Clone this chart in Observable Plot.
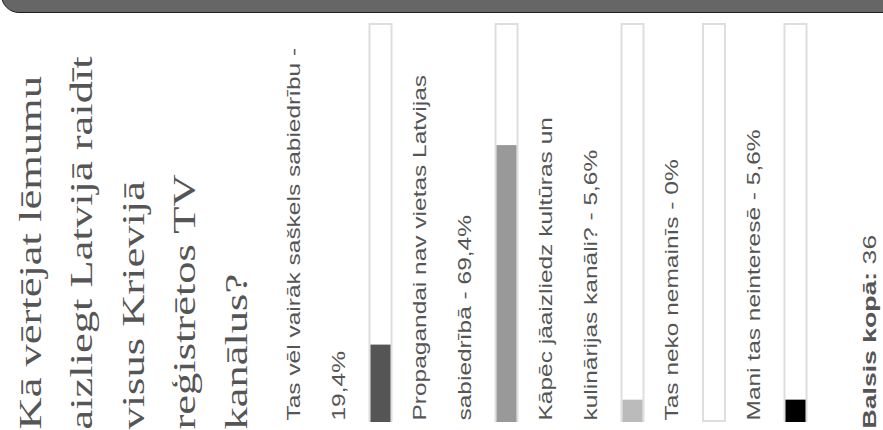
<!DOCTYPE html>
<html><head><meta charset="utf-8">
<script src="https://cdn.jsdelivr.net/npm/d3@7"></script>
<script src="https://cdn.jsdelivr.net/npm/@observablehq/plot@0.6"></script>
<style>
html,body{margin:0;padding:0;background:#fff;overflow:hidden}
#wrap{position:relative;width:883px;height:430px;overflow:hidden}
#hdr{position:absolute;left:1px;top:-12px;width:920px;height:25px;box-sizing:border-box;background:#666;border:1.5px solid #1e1e1e;border-bottom-left-radius:18px}
#chart{position:absolute;left:0;top:0}
</style></head><body><div id="wrap"><div id="chart"></div><div id="hdr"></div></div>
<script>
// ---- data ----
const question = "Kā vērtējat lēmumu aizliegt Latvijā raidīt visus Krievijā reģistrētos TV kanālus?";
const options = [
  "Tas vēl vairāk saškels sabiedrību",
  "Propagandai nav vietas Latvijas sabiedrībā",
  "Kāpēc jāaizliedz kultūras un kulinārijas kanāli?",
  "Tas neko nemainīs",
  "Mani tas neinteresē"
];
const percents = [19.4, 69.4, 5.6, 0, 5.6];
const barColors = ["#555555", "#999999", "#bbbbbb", "#dddddd", "#000000"];
const totalLabel = "Balsis kopā";
const totalVotes = 36;

// ---- layout ----
const W = 883, H = 430, STRETCH = 1.4, WRAP = 400;
const SERIF = '"Liberation Serif", "Times New Roman", serif';
const SANS = '"Liberation Sans", Arial, sans-serif';
const titleSize = 31.8, titlePitch = 51.5, labelSize = 17.5, labelPitch = 44.5, footSize = 19;
const ctx = document.createElement("canvas").getContext("2d");
function wrap(str, font) {
  ctx.font = font;
  const words = str.split(" "), lines = [];
  let cur = "";
  for (const w of words) {
    const t = cur ? cur + " " + w : w;
    if (cur && ctx.measureText(t).width * STRETCH > WRAP) { lines.push(cur); cur = w; }
    else cur = t;
  }
  if (cur) lines.push(cur);
  return lines;
}
const fmt = v => String(v).replace(".", ",") + "%";

const titleLines = wrap(question, `${titleSize}px ${SERIF}`);
const titleFirst = 40;
const titleLast = titleFirst + (titleLines.length - 1) * titlePitch;
let cursor = titleLast + 53.5;
const rows = options.map((name, i) => {
  const lines = wrap(`${name} - ${fmt(percents[i])}`, `${labelSize}px ${SANS}`);
  const last = cursor + (lines.length - 1) * labelPitch;
  const barLeft = last + 24.5, barRight = barLeft + 24;
  cursor = barRight + 33;
  return {text: lines.join("\n"), x: last, barLeft, barRight, pct: percents[i], color: barColors[i]};
});
const footX = rows[rows.length - 1].barRight + 68;
const footLabel = `${totalLabel}: `;
ctx.font = `bold ${footSize}px ${SANS}`;
const footLabelLen = ctx.measureText(footLabel).width * STRETCH;

const common = {x: "x", text: "t", frameAnchor: "bottom", textAnchor: "start", lineAnchor: "bottom", rotate: -90};
const svg = Plot.plot({
  width: W, height: H,
  marginTop: 23, marginBottom: 8, marginLeft: 0, marginRight: 0,
  x: {type: "identity", axis: null},
  y: {domain: [0, 100], axis: null},
  style: {background: "transparent", overflow: "visible"},
  marks: [
    Plot.rect(rows, {x1: "barLeft", x2: "barRight", y1: () => 0, y2: () => 100,
      fill: "white", stroke: "#dedede", strokeWidth: 2, inset: 1}),
    Plot.rect(rows.filter(d => d.pct > 0), {x1: "barLeft", x2: "barRight", y1: () => 0, y2: "pct",
      fill: "color", insetLeft: 2, insetRight: 2}),
    Plot.text([{x: titleLast, t: titleLines.join("\n")}], {
      ...common, fontSize: titleSize, fontFamily: SERIF, lineHeight: titlePitch / titleSize,
      fill: "#555", dy: 7}),
    Plot.text(rows, {
      ...common, text: "text", fontSize: labelSize, fontFamily: SANS, lineHeight: labelPitch / labelSize,
      fill: "#555", dy: -2}),
    Plot.text([{x: footX, t: footLabel}], {
      ...common, fontSize: footSize, fontFamily: SANS, fontWeight: "bold", fill: "#555", dy: 6}),
    Plot.text([{x: footX, t: String(totalVotes)}], {
      ...common, fontSize: footSize, fontFamily: SANS, fill: "#555", dy: 6 - footLabelLen})
  ]
});
svg.querySelectorAll('g[aria-label="text"] text').forEach(t => {
  t.setAttribute("transform", (t.getAttribute("transform") || "") + ` scale(${STRETCH},1)`);
});
document.getElementById("chart").appendChild(svg);
</script>
</body></html>
